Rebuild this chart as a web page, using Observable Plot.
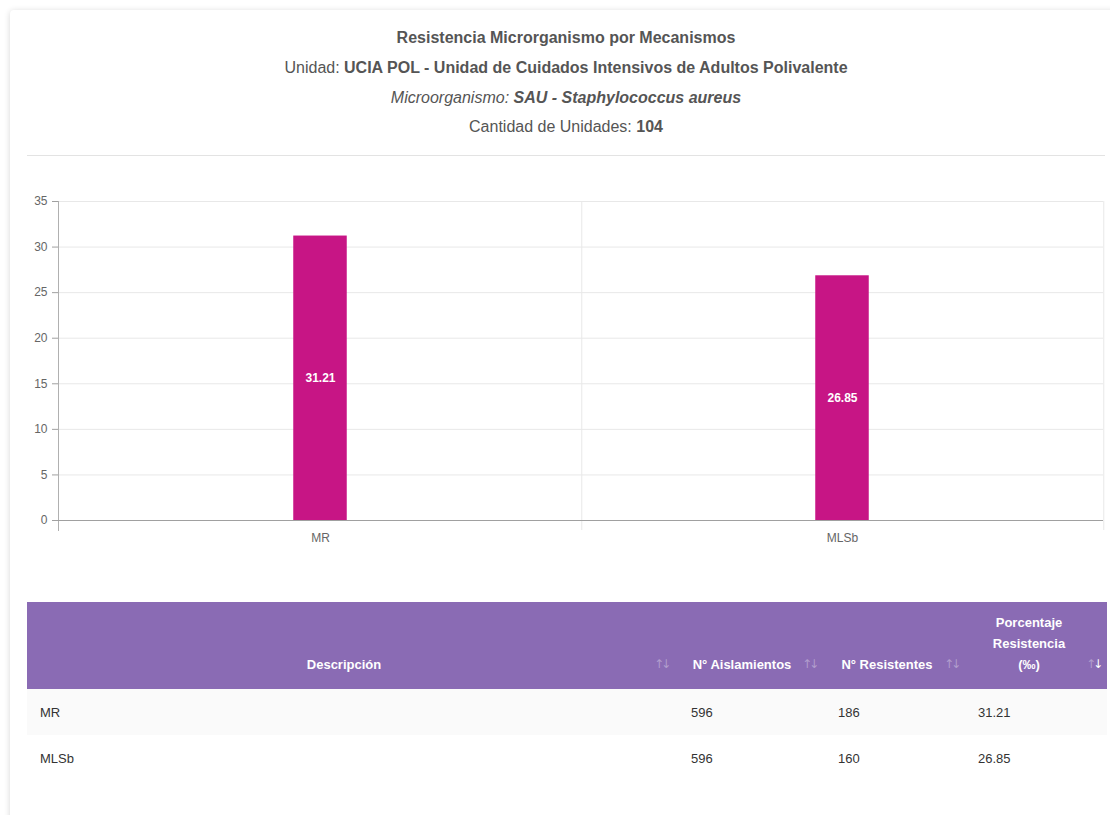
<!DOCTYPE html>
<html>
<head>
<meta charset="utf-8">
<script src="https://cdn.jsdelivr.net/npm/d3@7"></script>
<script src="https://cdn.jsdelivr.net/npm/@observablehq/plot@0.6"></script>
<style>
  html, body { margin:0; padding:0; background:#fff; width:1110px; height:815px; overflow:hidden; }
  body { font-family: "Liberation Sans", Arial, Helvetica, sans-serif; color:#555; position:relative; }
  #card { position:absolute; left:10px; top:10px; width:1112px; height:840px; background:#fff;
          border-radius:4px; box-shadow:0 1px 6px rgba(0,0,0,0.16); }
  .hline { position:absolute; left:10px; width:1112px; text-align:center; font-size:16px; color:#555; line-height:20px; }
  #rule { position:absolute; left:27px; top:155px; width:1078px; height:1px; background:#e3e3e3; }
  #chart { position:absolute; left:0; top:190px; }
  table { position:absolute; left:27px; top:602px; width:1080px; border-collapse:collapse; font-size:13px; }
  th { background:#8a6bb4; color:#fff; font-weight:bold; vertical-align:bottom; text-align:center;
       padding:0 30px 14px 16px; line-height:21px; position:relative; height:87px; box-sizing:border-box; }
  th .s { position:absolute; right:7px; bottom:14px; color:rgba(255,255,255,0.35); font-weight:normal;
          font-family:"DejaVu Sans", sans-serif; font-size:12px; letter-spacing:-3px; }
  th .s b { color:#fff; font-weight:normal; }
  td { padding:0 0 0 13px; height:46px; color:#333; }
  tr.odd td { background:#fafafa; }
</style>
</head>
<body>
<div id="card"></div>
<div class="hline" style="top:28px;font-weight:bold;">Resistencia Microrganismo por Mecanismos</div>
<div class="hline" style="top:58px;">Unidad: <b>UCIA POL - Unidad de Cuidados Intensivos de Adultos Polivalente</b></div>
<div class="hline" style="top:88px;font-style:italic;">Microorganismo: <b>SAU - Staphylococcus aureus</b></div>
<div class="hline" style="top:117px;">Cantidad de Unidades: <b>104</b></div>
<div id="rule"></div>
<div id="chart"></div>
<table id="tbl"></table>
<script>
const categories = ["MR", "MLSb"];
const values = [31.21, 26.85];
const aislamientos = [596, 596];
const resistentes = [186, 160];
const yTicks = [0, 5, 10, 15, 20, 25, 30, 35];
const headers = ["Descripción", "N° Aislamientos", "N° Resistentes", "Porcentaje<br>Resistencia<br>(‰)"];

const data = categories.map((c, i) => ({cat: c, value: values[i]}));

const W = 1110, H = 370, ML = 58, MR = 7, MT = 11, MB = 40;
const half = (W - ML - MR) / categories.length / 2;
const barW = 54;
const inset = half - barW / 2;

const chart = Plot.plot({
  width: W, height: H,
  marginLeft: ML, marginRight: MR, marginTop: MT, marginBottom: MB,
  style: {fontFamily: '"Liberation Sans", Arial, Helvetica, sans-serif', fontSize: "12px", color: "#666", background: "transparent"},
  x: {domain: categories, padding: 0, label: null},
  y: {domain: [0, 35], label: null},
  marks: [
    Plot.gridY(yTicks, {stroke: "#e8e8e8", strokeOpacity: 1}),
    Plot.ruleX(categories, {x: d => d, dx: half, y1: 35, y2: 0, stroke: "#e8e8e8", insetBottom: -10}),
    Plot.frame({anchor: "left", stroke: "#b0b0b0", insetBottom: -10}),
    Plot.barY(data, {x: "cat", y: "value", fill: "#c71585", insetLeft: inset, insetRight: inset}),
    Plot.ruleY([0], {stroke: "#a0a0a0"}),
    Plot.axisY(yTicks, {tickSize: 6, tickPadding: 5, stroke: "#a0a0a0", fill: "#666", label: null}),
    Plot.axisX({tickSize: 0, tickPadding: 13, fill: "#666", label: null}),
    Plot.text(data, {x: "cat", y: d => d.value / 2, text: d => d.value.toFixed(2), fill: "white", fontWeight: "bold", fontSize: 12})
  ]
});
document.getElementById("chart").appendChild(chart);

const tbl = document.getElementById("tbl");
const widths = [648, 148, 142, 142];
let h = "<tr>";
headers.forEach((t, i) => {
  const icon = i === 3 ? "↑<b>↓</b>" : "↑↓";
  h += `<th style="width:${widths[i]}px">${t}<span class="s">${icon}</span></th>`;
});
h += "</tr>";
categories.forEach((c, i) => {
  h += `<tr class="${i % 2 === 0 ? "odd" : ""}"><td>${c}</td><td style="padding-left:16px">${aislamientos[i]}</td><td style="padding-left:15px">${resistentes[i]}</td><td style="padding-left:13px">${values[i].toFixed(2)}</td></tr>`;
});
tbl.innerHTML = h;
</script>
</body>
</html>
